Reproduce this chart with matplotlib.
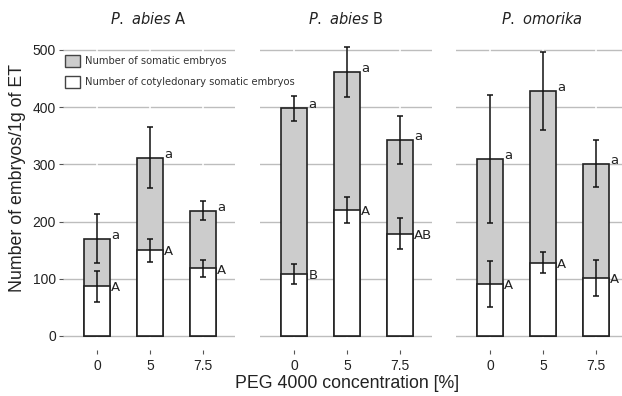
import numpy as np
import matplotlib
matplotlib.use('Agg')
from matplotlib import pyplot as plt
from matplotlib.patches import Patch

# data
concs = ['0', '5', '7.5']
titles = [r'$\mathit{P.\ abies}$ A', r'$\mathit{P.\ abies}$ B', r'$\mathit{P.\ omorika}$']
total = [[170, 312, 219], [398, 462, 343], [309, 428, 301]]
total_err = [[43, 54, 17], [22, 44, 42], [112, 68, 41]]
coty = [[87, 150, 118], [108, 220, 179], [91, 128, 101]]
coty_err = [[27, 20, 15], [17, 23, 27], [40, 18, 31]]
total_letters = [['a', 'a', 'a'], ['a', 'a', 'a'], ['a', 'a', 'a']]
coty_letters = [['A', 'A', 'A'], ['B', 'A', 'AB'], ['A', 'A', 'A']]

W, H = 622, 396
fig = plt.figure(figsize=(W / 100, H / 100), dpi=100)

lefts = [62.7, 259.7, 455.7]
pw = 172
bottom, top = 350.3, 32.8

x = np.arange(len(concs))
bw = 0.5
axes = []
for k in range(3):
    ax = fig.add_axes([lefts[k] / W, (H - bottom) / H, pw / W, (bottom - top) / H])
    ax.patch.set_visible(False)
    for s in ax.spines.values():
        s.set_visible(False)
    ax.set_xlim(-0.65, 2.6)
    ax.set_ylim(-25, 530)
    yt = [0, 100, 200, 300, 400, 500]
    for v in yt:
        ax.axhline(v, color='#bdbdbd', lw=1.0, zorder=0)
    for xi in x:
        ax.axvline(xi, color='white', lw=1.2, zorder=0.5)

    ax.bar(x, total[k], width=bw, color='#cccccc', edgecolor='#222222', lw=1.2, zorder=2)
    ax.bar(x, coty[k], width=bw, color='white', edgecolor='#222222', lw=1.2, zorder=3)
    ax.errorbar(x, total[k], yerr=total_err[k], fmt='none', ecolor='#111111',
                elinewidth=1.1, capsize=2.2, capthick=1.1, zorder=4)
    ax.errorbar(x, coty[k], yerr=coty_err[k], fmt='none', ecolor='#111111',
                elinewidth=1.1, capsize=2.2, capthick=1.1, zorder=4)

    for i in range(len(concs)):
        ax.text(x[i] + bw / 2 + 0.02, total[k][i], total_letters[k][i], ha='left', va='baseline',
                fontsize=9.5, color='#222222', zorder=5)
        ax.text(x[i] + bw / 2 + 0.02, coty[k][i] - 3, coty_letters[k][i], ha='left', va='center',
                fontsize=9.5, color='#222222', zorder=5)

    ax.set_xticks(x)
    ax.set_xticklabels(concs, fontsize=10, family='Liberation Sans', color='#222222')
    ax.tick_params(axis='x', length=3, width=0.8, color='#555555', pad=3)
    if k == 0:
        ax.set_yticks(yt)
        ax.set_yticklabels([str(v) for v in yt], fontsize=10, family='Liberation Sans', color='#222222')
        ax.tick_params(axis='y', length=3, width=0.8, color='#555555', pad=2)
    else:
        ax.set_yticks([])
    ax.set_title(titles[k], fontsize=10.5, pad=6, color='#222222')
    axes.append(ax)

# legend at figure level so the other panels do not paint over it
handles = [Patch(facecolor='#cccccc', edgecolor='#444444', lw=1.0, label='Number of somatic embryos'),
           Patch(facecolor='white', edgecolor='#444444', lw=1.0, label='Number of cotyledonary somatic embryos')]
leg = fig.legend(handles=handles, loc='upper left', bbox_to_anchor=(0.013, 0.93),
                 bbox_transform=axes[0].transAxes, frameon=False,
                 borderaxespad=0, borderpad=0, fontsize=7.2, handlelength=1.5, handleheight=1.4,
                 handletextpad=0.5, labelspacing=0.95)
for t in leg.get_texts():
    t.set_color('#333333')
leg.set_zorder(10)

fig.text(18 / W, 1 - 178 / H, 'Number of embryos/1g of ET', rotation=90, ha='center', va='center',
         fontsize=12.8, family='Liberation Sans', color='#222222')
fig.text(347 / W, 1 - 384 / H, 'PEG 4000 concentration [%]', ha='center', va='center',
         fontsize=12.8, family='Liberation Sans', color='#222222')

fig.savefig('out.png', dpi=100)
